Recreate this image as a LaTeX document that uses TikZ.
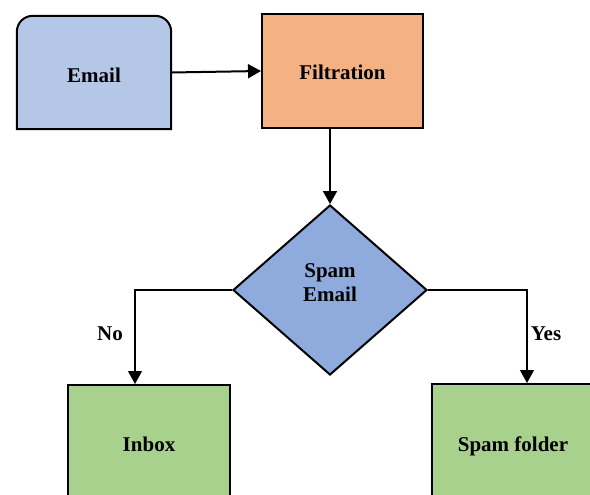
\documentclass[tikz,border=0pt]{standalone}
\usepackage{fontspec}
\setmainfont{Liberation Serif}
\usetikzlibrary{shapes.geometric,arrows.meta,backgrounds}
\begin{document}
\begin{tikzpicture}[x=1pt,y=-1pt,
  lbl/.style={font=\fontsize{21}{24}\selectfont\bfseries},
  box/.style={lbl,draw=black,line width=2pt,inner sep=0pt},
  flow/.style={line width=2pt,-{Triangle[length=13pt,width=14pt]}},
  branch/.style={line width=1.2pt,-{Triangle[length=13pt,width=14pt]}}
]
\useasboundingbox (0,0) rectangle (590,495);
\clip (0,0) rectangle (590,495);

% source box (rounded top corners drawn on the background layer)
\node[lbl,minimum width=154pt,minimum height=113pt,inner sep=0pt,text height=21pt,text depth=0pt] (email) at (94,72.5) {Email};
\begin{scope}[on background layer]
  \draw[fill={rgb,255:red,180;green,199;blue,231},line width=2pt]
    (email.south west) [rounded corners=16pt] -- (email.north west) -- (email.north east)
    [sharp corners] -- (email.south east) -- cycle;
\end{scope}

\node[box,fill={rgb,255:red,244;green,177;blue,131},minimum width=161pt,minimum height=114pt,text height=18pt,text depth=0pt] (filt) at (342.5,71) {Filtration};

% decision
\node[draw=black,line width=2pt,diamond,inner sep=0pt,
  fill={rgb,255:red,143;green,170;blue,220},minimum width=194pt,minimum height=170pt] (spamq) at (330,290) {};
\node[lbl,align=center] (spamqtext) at (330,283) {Spam\\Email};

\node[box,fill={rgb,255:red,169;green,209;blue,142},minimum width=162pt,minimum height=118pt,text height=14.5pt,text depth=0pt] (inbox) at (149,444) {Inbox};
\node[box,fill={rgb,255:red,169;green,209;blue,142},minimum width=162pt,minimum height=120pt,text height=14.5pt,text depth=0pt] (spamf) at (513,444) {Spam folder};

\draw[flow] (email.east) -- (filt.west);
\draw[flow] (filt.south -| spamq.north) -- (spamq.north);
\draw[branch] (spamq.west) -| ([xshift=-14pt]inbox.north);
\draw[branch] (spamq.east) -| ([xshift=14pt]spamf.north);

\node[lbl] (no) at (110,334) {No};
\node[lbl] (yes) at (546,334) {Yes};
\end{tikzpicture}
\end{document}
